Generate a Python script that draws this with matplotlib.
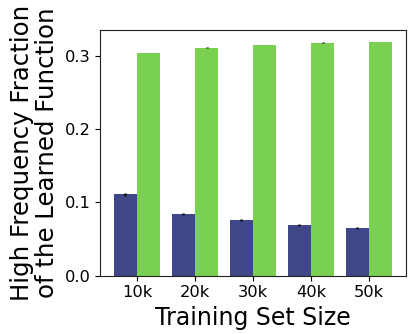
import numpy as np
import matplotlib
matplotlib.use("Agg")
import matplotlib.pyplot as plt

# ---------- Data ----------
sizes = ["10k", "20k", "30k", "40k", "50k"]
low_vals = [0.111, 0.084, 0.076, 0.069, 0.065]
low_err = [0.0025, 0.0012, 0.001, 0.001, 0.0018]
high_vals = [0.304, 0.311, 0.315, 0.318, 0.319]
high_err = [0.0005, 0.0006, 0.0003, 0.0003, 0.0003]

BLUE = "#404788"
GREEN = "#7AD151"


def main():
    fig = plt.figure(figsize=(4.12, 3.34), dpi=100)
    ax = fig.add_axes([0.2427, 0.1746, 0.7427, 0.7356])

    x = np.arange(len(sizes))
    width = 0.4
    err_kw = dict(ecolor="#1a1a1a", elinewidth=2, capsize=0)

    ax.bar(x - width / 2, low_vals, width, yerr=low_err, color=BLUE,
           error_kw=err_kw)
    ax.bar(x + width / 2, high_vals, width, yerr=high_err, color=GREEN,
           error_kw=err_kw)

    ax.set_xticks(x)
    ax.set_xticklabels(sizes)
    ax.set_yticks([0.0, 0.1, 0.2, 0.3])
    ax.tick_params(labelsize=11.7)

    ax.set_xlabel("Training Set Size", fontsize=17)
    ax.set_ylabel("High Frequency Fraction\nof the Learned Function",
                  fontsize=17.6, linespacing=1.05)

    for sp in ax.spines.values():
        sp.set_color("#222222")

    fig.savefig("out.png", dpi=100)
    plt.close(fig)


if __name__ == "__main__":
    main()
